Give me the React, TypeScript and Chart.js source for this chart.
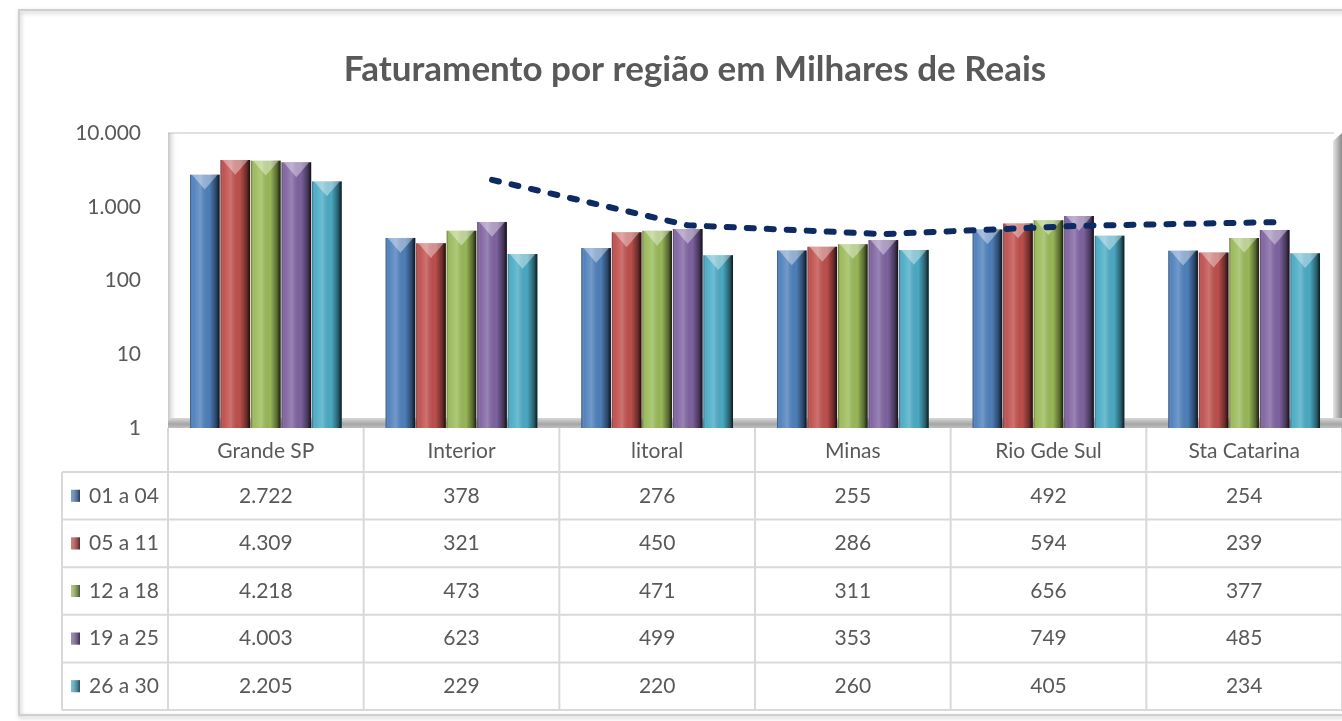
import React, { useEffect, useRef } from 'react';
import { Chart, registerables } from 'chart.js';

Chart.register(...registerables);

const categories = ['Grande SP', 'Interior', 'litoral', 'Minas', 'Rio Gde Sul', 'Sta Catarina'];
const seriesNames = ['01 a 04', '05 a 11', '12 a 18', '19 a 25', '26 a 30'];
const s0104 = [2722, 378, 276, 255, 492, 254];
const s0511 = [4309, 321, 450, 286, 594, 239];
const s1218 = [4218, 473, 471, 311, 656, 377];
const s1925 = [4003, 623, 499, 353, 749, 485];
const s2630 = [2205, 229, 220, 260, 405, 234];
// 2-period moving average trend line of "19 a 25"
const trendValues = [null, 2313, 561, 426, 551, 617];
const trendSeriesIndex = 3;
const yTickValues = [1, 10, 100, 1000, 10000];
const titleText = 'Faturamento por região em Milhares de Reais';

const seriesValues = [s0104, s0511, s1218, s1925, s2630];
const seriesColors = ['#4F81BD', '#C0504D', '#9BBB59', '#8064A2', '#4BACC6'];
const textColor = '#595959';
const gridColor = '#d9d9d9';
const FONT = "Lato, 'Open Sans', sans-serif";
const CAT_PCT = 0.78;
const BAR_PCT = 0.97;
const TXT = 21;
const PAD_LEFT = 48;

const fmt = (n: number) => String(n).replace(/\B(?=(\d{3})+(?!\d))/g, '.');

const decorPlugin = {
  id: 'decor',
  afterDatasetsUpdate(chart: any) {
    // the trend line is attached to the "19 a 25" bars: put its points on their centres
    const lineIdx = chart.data.datasets.findIndex((d: any) => d.type === 'line');
    const barIdx = chart.data.datasets.findIndex((d: any) => d.label === seriesNames[trendSeriesIndex]);
    if (lineIdx < 0 || barIdx < 0) return;
    const lm = chart.getDatasetMeta(lineIdx);
    const bm = chart.getDatasetMeta(barIdx);
    lm.data.forEach((pt: any, i: number) => {
      if (bm.data[i]) pt.x = bm.data[i].x;
    });
    if (lm.dataset) lm.dataset._path = undefined;
  },
  beforeDraw(chart: any) {
    const { ctx, width, height } = chart;
    ctx.save();
    ctx.fillStyle = '#ffffff';
    ctx.fillRect(0, 0, width, height);
    ctx.shadowColor = 'rgba(0,0,0,0.25)';
    ctx.shadowBlur = 4;
    ctx.shadowOffsetX = 1;
    ctx.shadowOffsetY = 2;
    ctx.strokeStyle = '#cfcfcf';
    ctx.lineWidth = 2;
    ctx.strokeRect(19, 10, width + 20, height - 16);
    ctx.restore();
  },
  beforeDatasetsDraw(chart: any) {
    const { ctx, chartArea } = chart;
    const { left, right, top, bottom } = chartArea;
    ctx.save();
    ctx.strokeStyle = '#e0e0e0';
    ctx.lineWidth = 2;
    ctx.beginPath();
    ctx.moveTo(left, top);
    ctx.lineTo(right - 8, top);
    ctx.stroke();
    const lg = ctx.createLinearGradient(left, 0, left + 10, 0);
    lg.addColorStop(0, 'rgba(150,150,150,0.55)');
    lg.addColorStop(1, 'rgba(255,255,255,0)');
    ctx.fillStyle = lg;
    ctx.fillRect(left, top, 10, bottom - top);
    const rg = ctx.createLinearGradient(right - 9, 0, right, 0);
    rg.addColorStop(0, '#e6e6e6');
    rg.addColorStop(1, '#8a8a8a');
    ctx.fillStyle = rg;
    ctx.beginPath();
    ctx.moveTo(right - 9, top + 8);
    ctx.lineTo(right, top);
    ctx.lineTo(right, bottom - 4);
    ctx.lineTo(right - 9, bottom - 10);
    ctx.closePath();
    ctx.fill();
    const fg = ctx.createLinearGradient(0, bottom - 10, 0, bottom);
    fg.addColorStop(0, '#d9d9d9');
    fg.addColorStop(0.6, '#a6a6a6');
    fg.addColorStop(1, '#bfbfbf');
    ctx.fillStyle = fg;
    ctx.fillRect(left, bottom - 10, right - left, 10);
    ctx.restore();
  },
  afterDatasetDraw(chart: any, args: any) {
    const meta = args.meta;
    if (meta.type !== 'bar') return;
    const ctx = chart.ctx;
    ctx.save();
    meta.data.forEach((el: any) => {
      const { x, y, base, width } = el.getProps(['x', 'y', 'base', 'width'], true);
      const l = x - width / 2;
      const r = x + width / 2;
      const g = ctx.createLinearGradient(l, 0, r, 0);
      g.addColorStop(0, 'rgba(0,0,0,0.4)');
      g.addColorStop(0.1, 'rgba(255,255,255,0.02)');
      g.addColorStop(0.35, 'rgba(255,255,255,0.2)');
      g.addColorStop(0.65, 'rgba(0,0,0,0.02)');
      g.addColorStop(0.88, 'rgba(0,0,0,0.45)');
      g.addColorStop(1, 'rgba(0,0,0,0.85)');
      ctx.fillStyle = g;
      ctx.fillRect(l, y, width, base - y);
      ctx.beginPath();
      ctx.moveTo(l + 2, y);
      ctx.lineTo(r - 2, y);
      ctx.lineTo(x, y + width * 0.5);
      ctx.closePath();
      ctx.fillStyle = 'rgba(255,255,255,0.38)';
      ctx.fill();
    });
    ctx.restore();
  },
  afterDraw(chart: any) {
    const { ctx, chartArea } = chart;
    const xs = chart.scales.x;
    const n = categories.length;
    const colW = (xs.right - xs.left) / n;
    const tableTop = chartArea.bottom;
    const headerH = 44;
    const rowH = 47.6;
    const rowsTop = tableTop + headerH;
    const tableBottom = rowsTop + rowH * seriesNames.length;
    const legendLeft = 62;
    ctx.save();
    ctx.strokeStyle = gridColor;
    ctx.lineWidth = 2;
    for (let i = 0; i <= n; i++) {
      const vx = xs.left + colW * i;
      ctx.beginPath();
      ctx.moveTo(vx, tableTop);
      ctx.lineTo(vx, tableBottom);
      ctx.stroke();
    }
    ctx.beginPath();
    ctx.moveTo(legendLeft, rowsTop);
    ctx.lineTo(legendLeft, tableBottom);
    ctx.stroke();
    for (let j = 0; j <= seriesNames.length; j++) {
      const hy = rowsTop + rowH * j;
      ctx.beginPath();
      ctx.moveTo(legendLeft, hy);
      ctx.lineTo(chart.width, hy);
      ctx.stroke();
    }
    ctx.font = `${TXT}px ${FONT}`;
    ctx.textBaseline = 'middle';
    seriesNames.forEach((name, j) => {
      const cy = rowsTop + rowH * j + rowH / 2;
      const kg = ctx.createLinearGradient(71, 0, 80, 0);
      kg.addColorStop(0, 'rgba(255,255,255,0.25)');
      kg.addColorStop(1, 'rgba(0,0,0,0.55)');
      ctx.fillStyle = seriesColors[j];
      ctx.fillRect(71, cy - 6, 9, 12);
      ctx.fillStyle = kg;
      ctx.fillRect(71, cy - 6, 9, 12);
      ctx.fillStyle = textColor;
      ctx.textAlign = 'left';
      ctx.fillText(name, 89, cy);
      ctx.textAlign = 'center';
      seriesValues[j].forEach((v, i) => {
        ctx.fillText(fmt(v), xs.getPixelForValue(i), cy);
      });
    });
    ctx.restore();
  },
};

export default function App() {
  const ref = useRef<HTMLCanvasElement | null>(null);
  useEffect(() => {
    if (!ref.current) return;
    Chart.defaults.font.family = FONT;
    const datasets: any[] = [
      {
        type: 'line',
        label: 'Média móvel 2 per. (19 a 25)',
        data: trendValues,
        borderColor: '#0d2a63',
        borderWidth: 6,
        borderDash: [7, 13],
        borderCapStyle: 'round',
        pointRadius: 0,
        fill: false,
        tension: 0,
        order: 0,
      },
      ...seriesNames.map((name, i) => ({
        type: 'bar',
        label: name,
        data: seriesValues[i],
        backgroundColor: seriesColors[i],
        borderWidth: 0,
        categoryPercentage: CAT_PCT,
        barPercentage: BAR_PCT,
        order: 1,
      })),
    ];
    const chart = new Chart(ref.current, {
      type: 'bar',
      data: { labels: categories, datasets },
      options: {
        responsive: false,
        animation: false,
        layout: { padding: { left: PAD_LEFT, right: 0, top: 0, bottom: 0 } },
        plugins: {
          legend: { display: false },
          tooltip: { enabled: false },
          title: {
            display: true,
            text: titleText,
            color: textColor,
            font: { size: 35, weight: 'bold', family: FONT, lineHeight: 1.2 },
            padding: { top: 49, bottom: 42 },
          },
        },
        scales: {
          x: {
            type: 'category',
            grid: { display: false, drawTicks: false },
            border: { display: false },
            ticks: { color: textColor, font: { size: TXT }, padding: 11, maxRotation: 0, autoSkip: false },
            afterFit: (s: any) => {
              s.height = 293;
            },
          },
          y: {
            type: 'logarithmic',
            min: 1,
            max: 10000,
            grid: { display: false, drawTicks: false },
            border: { display: false },
            afterBuildTicks: (s: any) => {
              s.ticks = yTickValues.map((v) => ({ value: v }));
            },
            ticks: {
              color: textColor,
              font: { size: TXT },
              padding: 27,
              callback: (v: any) => fmt(Number(v)),
            },
            afterFit: (s: any) => {
              s.width = 168 - PAD_LEFT;
            },
          },
        },
      },
      plugins: [decorPlugin],
    });
    return () => chart.destroy();
  }, []);
  return (
    <div style={{ position: 'fixed', left: 0, top: 0, width: 1342, height: 721, background: '#fff' }}>
      <canvas ref={ref} width={1342} height={721} />
    </div>
  );
}
